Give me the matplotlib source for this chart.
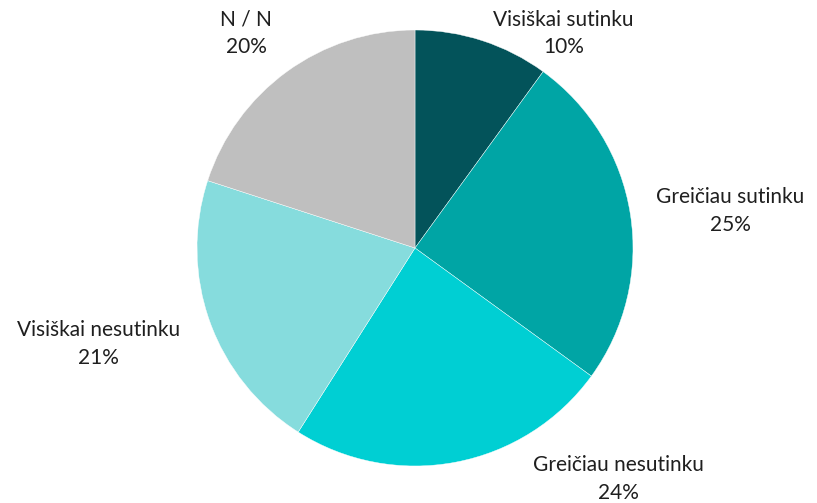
import matplotlib
matplotlib.use("Agg")
import matplotlib.pyplot as plt

# data
labels = ["Visiškai sutinku", "Greičiau sutinku", "Greičiau nesutinku",
          "Visiškai nesutinku", "N / N"]
shares = [10, 25, 24, 21, 20]
colors = ["#03535A", "#00A5A5", "#00CFD3", "#86DCDD", "#BFBFBF"]

# where the labels sit, in pie units (radius = 1)
label_pos = [(0.68, 0.985), (1.445, 0.17), (0.935, -1.06),
             (-1.45, -0.44), (-0.775, 0.985)]

plt.rcParams['font.family'] = ['Lato', 'DejaVu Sans']

W, H = 817, 503
cx, cy, r = 415, 248, 218
fig = plt.figure(figsize=(W / 100, H / 100), dpi=100)
ax = fig.add_axes([(cx - r) / W, (H - cy - r) / H, 2 * r / W, 2 * r / H])

ax.pie(shares, colors=colors, startangle=90, counterclock=False,
       wedgeprops=dict(edgecolor="white", linewidth=0.3))
ax.set_xlim(-1, 1)
ax.set_ylim(-1, 1)
ax.set_aspect("equal")

for lab, val, (x, y) in zip(labels, shares, label_pos):
    ax.text(x, y, f"{lab}\n{val}%", ha="center", va="center",
            fontsize=15, color="#1f1f1f", linespacing=1.45, clip_on=False)

fig.savefig("out.png", dpi=100)
